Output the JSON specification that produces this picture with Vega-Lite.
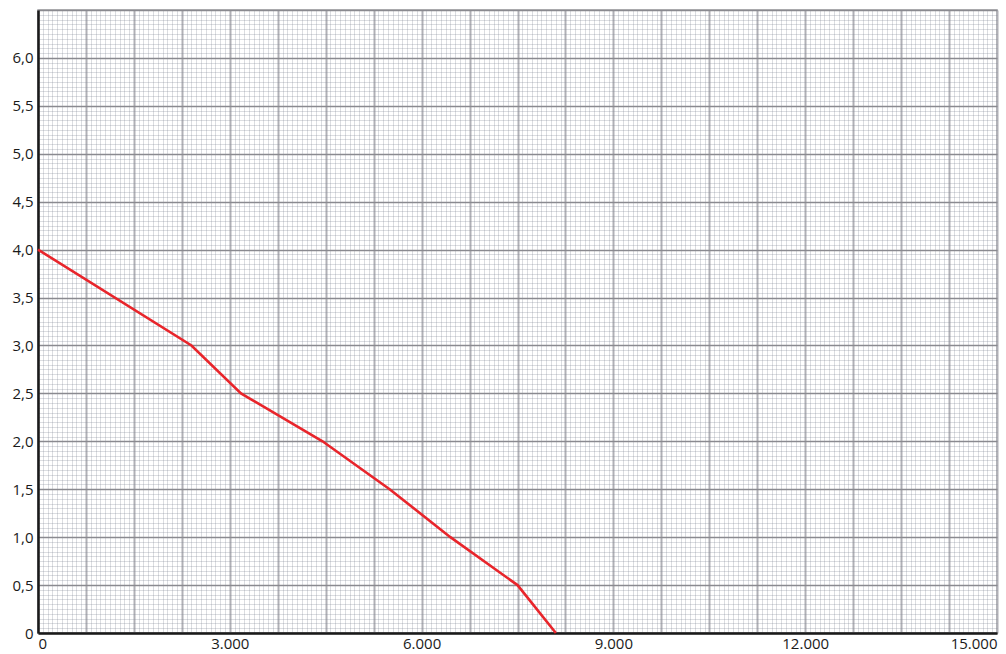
{
  "$schema": "https://vega.github.io/schema/vega-lite/v6.json",
  "autosize": "none",
  "width": 959,
  "height": 623,
  "padding": {"left": 38, "top": 10, "right": 9, "bottom": 21},
  "background": "white",
  "config": {
    "view": {"stroke": "#9a9a9e", "strokeWidth": 1.5},
    "axis": {"labelFont": "Open Sans", "labelFontSize": 15, "labelColor": "#1a1a1a", "titleFontSize": 0}
  },
  "data": {"values": [
    {"x": 0, "y": 4.0},
    {"x": 2400, "y": 3.0},
    {"x": 3175, "y": 2.5},
    {"x": 4450, "y": 2.0},
    {"x": 5500, "y": 1.5},
    {"x": 6450, "y": 1.0},
    {"x": 7500, "y": 0.5},
    {"x": 8100, "y": 0.0}
  ]},
  "mark": {"type": "line", "color": "#e8252b", "strokeWidth": 2.6},
  "encoding": {
    "x": {
      "field": "x", "type": "quantitative",
      "scale": {"domain": [0, 15000], "nice": false, "zero": false},
      "axis": {
        "title": null,
        "values": {"expr": "sequence(0, 15001, 75)"},
        "ticks": false,
        "labelOverlap": false,
        "labelPadding": 3,
        "labelExpr": "abs(datum.value/3000 - round(datum.value/3000)) < 0.000001 ? (datum.value < 1 ? '0' : replace(format(datum.value, ','), ',', '.')) : ''",
        "domainColor": "#1a1a1a",
        "domainWidth": 2.5,
        "grid": true,
        "gridColor": {"condition": {"test": "abs(datum.value/750 - round(datum.value/750)) < 0.000001", "value": "#b0b0b6"}, "value": "#7d8494"},
        "gridWidth": {"condition": {"test": "abs(datum.value/750 - round(datum.value/750)) < 0.000001", "value": 2}, "value": 1},
        "gridOpacity": {"condition": {"test": "abs(datum.value/750 - round(datum.value/750)) < 0.000001", "value": 1}, "value": 0.28}
      }
    },
    "y": {
      "field": "y", "type": "quantitative",
      "scale": {"domain": [0, 6.5], "nice": false, "zero": false},
      "axis": {
        "title": null,
        "values": {"expr": "sequence(0, 6.51, 0.05)"},
        "ticks": false,
        "labelOverlap": false,
        "labelPadding": 5,
        "labelExpr": "abs(datum.value*2 - round(datum.value*2)) < 0.001 && datum.value < 6.4 ? (datum.value < 0.001 ? '0' : replace(format(datum.value, '.1f'), '.', ',')) : ''",
        "domainColor": "#1a1a1a",
        "domainWidth": 2.5,
        "grid": true,
        "gridColor": {"condition": {"test": "abs(datum.value*2 - round(datum.value*2)) < 0.001", "value": "#8a8a90"}, "value": "#7d8494"},
        "gridWidth": {"condition": {"test": "abs(datum.value*2 - round(datum.value*2)) < 0.001", "value": 1.5}, "value": 1},
        "gridOpacity": {"condition": {"test": "abs(datum.value*2 - round(datum.value*2)) < 0.001", "value": 1}, "value": 0.28}
      }
    }
  }
}
